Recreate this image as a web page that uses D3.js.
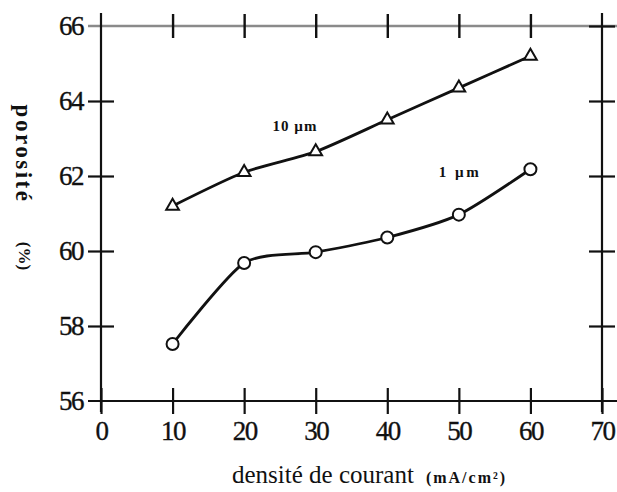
<!DOCTYPE html>
<html>
<head>
<meta charset="utf-8">
<script src="https://cdn.jsdelivr.net/npm/d3@7/dist/d3.min.js"></script>
<style>
  html, body { margin: 0; padding: 0; background: #fff; }
  svg { display: block; font-family: "Liberation Serif", "DejaVu Serif", serif; }
</style>
</head>
<body>
<div id="chart"></div>
<script>
// Porosity vs current density, two pore sizes.
const densities = [10, 20, 30, 40, 50, 60];
const poro10um = [61.2, 62.1, 62.65, 63.5, 64.35, 65.2];
const poro1um = [57.52, 59.68, 59.97, 60.36, 60.97, 62.18];
const xTicks = [0, 10, 20, 30, 40, 50, 60, 70];
const yTicks = [56, 58, 60, 62, 64, 66];

const W = 617, H = 492;
const INK = '#111';
const x = d3.scaleLinear().domain([0, 70]).range([101, 602]);
const y = d3.scaleLinear().domain([56, 66]).range([401, 26]);

const svg = d3.select('#chart').append('svg')
    .attr('width', W).attr('height', H)
    .attr('viewBox', `0 0 ${W} ${H}`);

// Frame lines: top one is grey in the scan, the others black.
svg.append('line')
    .attr('x1', 88).attr('x2', W).attr('y1', y(66)).attr('y2', y(66))
    .attr('stroke', '#8a8a8a').attr('stroke-width', 2.5);
svg.append('line')
    .attr('x1', 88).attr('x2', W).attr('y1', y(56)).attr('y2', y(56))
    .attr('stroke', INK).attr('stroke-width', 2);
svg.append('line')
    .attr('x1', x(0)).attr('x2', x(0)).attr('y1', 13).attr('y2', 412)
    .attr('stroke', INK).attr('stroke-width', 2.2);
svg.append('line')
    .attr('x1', x(70)).attr('x2', x(70)).attr('y1', 13).attr('y2', 412)
    .attr('stroke', INK).attr('stroke-width', 2.2);

// tick labels are a bit heavier than plain regular in the scan
const styleTickText = (sel) => sel
    .attr('fill', INK).attr('stroke', INK).attr('stroke-width', 0.35)
    .attr('font-size', 27).attr('letter-spacing', -1.5)
    .attr('font-family', '"Liberation Serif", serif');

// Axes via d3-axis, then stretch the tick marks so they cross the line.
const yAxis = svg.append('g')
    .attr('transform', `translate(${x(0)},0)`)
    .call(d3.axisLeft(y).tickValues(yTicks).tickSize(13).tickPadding(5).tickFormat(d3.format('d')));
yAxis.select('.domain').remove();
yAxis.selectAll('.tick line').attr('x1', 13).attr('stroke', INK).attr('stroke-width', 2.2);
yAxis.selectAll('.tick text').call(styleTickText);
yAxis.selectAll('.tick').filter((d) => d === 56 || d === 66).select('line').remove();

const xAxis = svg.append('g')
    .attr('transform', `translate(0,${y(56)})`)
    .call(d3.axisBottom(x).tickValues(xTicks).tickSize(13).tickPadding(7).tickFormat(d3.format('d')));
xAxis.select('.domain').remove();
xAxis.selectAll('.tick line').attr('y1', -13).attr('stroke', INK).attr('stroke-width', 2.2);
xAxis.selectAll('.tick text').call(styleTickText);

const topAxis = svg.append('g')
    .attr('transform', `translate(0,${y(66)})`)
    .call(d3.axisTop(x).tickValues(densities).tickSize(12).tickFormat(''));
topAxis.select('.domain').remove();
topAxis.selectAll('.tick line').attr('y1', 12).attr('stroke', INK).attr('stroke-width', 2.4);

const rightAxis = svg.append('g')
    .attr('transform', `translate(${x(70)},0)`)
    .call(d3.axisRight(y).tickValues([58, 60, 62, 64, 66]).tickSize(13).tickFormat(''));
rightAxis.select('.domain').remove();
rightAxis.selectAll('.tick line').attr('x1', -13).attr('stroke', INK).attr('stroke-width', 2.2);

// Curves — a slightly tighter cardinal spline keeps the plateau from bulging
const line = d3.line()
    .x((d, i) => x(densities[i]))
    .y((d) => y(d))
    .curve(d3.curveCardinal.tension(0.3));

[poro10um, poro1um].forEach((series) => {
    svg.append('path')
        .datum(series)
        .attr('d', line)
        .attr('fill', 'none')
        .attr('stroke', INK)
        .attr('stroke-width', 2.8);
});

// Markers
const tri = d3.symbol().type(d3.symbolTriangle).size(70);
svg.append('g').selectAll('path')
    .data(poro10um)
    .join('path')
    .attr('transform', (d, i) => `translate(${x(densities[i])},${y(d)})`)
    .attr('d', tri)
    .attr('fill', '#fff')
    .attr('stroke', INK)
    .attr('stroke-width', 2);

svg.append('g').selectAll('circle')
    .data(poro1um)
    .join('circle')
    .attr('cx', (d, i) => x(densities[i]))
    .attr('cy', (d) => y(d))
    .attr('r', 6)
    .attr('fill', '#fff')
    .attr('stroke', INK)
    .attr('stroke-width', 2);

// Series labels
svg.append('text')
    .attr('x', 295).attr('y', 131)
    .attr('text-anchor', 'middle')
    .attr('font-size', 15).attr('font-weight', 'bold').attr('letter-spacing', 1).attr('fill', INK)
    .text('10 µm');
svg.append('text')
    .attr('x', 460).attr('y', 177)
    .attr('text-anchor', 'middle')
    .attr('font-size', 15).attr('font-weight', 'bold').attr('letter-spacing', 2.5).attr('fill', INK)
    .text('1 µm');

// Axis titles
svg.append('text')
    .attr('transform', 'translate(16,154) rotate(90)')
    .attr('text-anchor', 'middle')
    .attr('font-size', 23).attr('font-weight', 'bold').attr('letter-spacing', 2.5).attr('fill', INK)
    .text('porosité');
svg.append('text')
    .attr('transform', 'translate(19,256) rotate(90)')
    .attr('text-anchor', 'middle')
    .attr('font-size', 17).attr('font-weight', 'bold').attr('fill', INK)
    .text('(%)');

const xt = svg.append('text')
    .attr('x', 232).attr('y', 483)
    .attr('fill', INK);
xt.append('tspan').attr('font-size', 25).text('densité de courant');
xt.append('tspan').attr('font-size', 16).attr('font-weight', 'bold')
    .attr('letter-spacing', 2).attr('dx', 12)
    .text('(mA/cm²)');
</script>
</body>
</html>
